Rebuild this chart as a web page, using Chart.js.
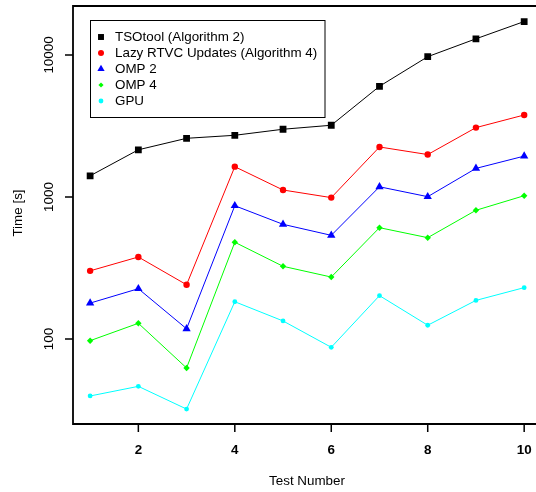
<!DOCTYPE html>
<html><head><meta charset="utf-8">
<script src="https://cdn.jsdelivr.net/npm/chart.js@4/dist/chart.umd.min.js"></script>
<style>html,body{margin:0;padding:0;overflow:hidden;background:#fff}#wrap{width:546px;height:492px}</style>
</head><body><div id="wrap"><canvas id="c" width="546" height="492"></canvas></div>
<script>
const testNumbers = [1, 2, 3, 4, 5, 6, 7, 8, 9, 10];
const tsotool = [1410, 2150, 2590, 2720, 3000, 3200, 6020, 9730, 13000, 17200];
const lazyRtvc = [302, 378, 241, 1635, 1120, 990, 2250, 1990, 3080, 3780];
const omp2 = [179, 226, 118, 868, 642, 537, 1180, 1005, 1590, 1940];
const omp4 = [97.3, 129, 62.5, 480, 325, 273, 608, 517, 806, 1021];
const gpu = [39.7, 46.4, 32.1, 183, 134, 87.4, 202, 125, 187, 230];
const xTicks = [2, 4, 6, 8, 10];
const yTicks = [100, 1000, 10000];
const seriesLabels = ['TSOtool (Algorithm 2)', 'Lazy RTVC Updates (Algorithm 4)', 'OMP 2', 'OMP 4', 'GPU'];
const xTitle = 'Test Number';
const yTitle = 'Time [s]';

const FONT = "'Liberation Sans', Arial, Helvetica, sans-serif";
const styles = [
  {color: '#000000', style: 'rect', r: 4.8},
  {color: '#FF0000', style: 'circle', r: 3.2},
  {color: '#0000FF', style: 'triangle', r: 4.8},
  {color: '#00FF00', style: 'rectRot', r: 3.2},
  {color: '#00FFFF', style: 'circle', r: 2.4}
];
const seriesData = [tsotool, lazyRtvc, omp2, omp4, gpu];

const datasets = seriesData.map((vals, i) => ({
  label: seriesLabels[i],
  data: vals.map((v, j) => ({x: testNumbers[j], y: v})),
  borderColor: styles[i].color,
  backgroundColor: styles[i].color,
  borderWidth: 1,
  pointStyle: styles[i].style,
  pointRadius: styles[i].r,
  pointBorderWidth: 0,
  pointBackgroundColor: styles[i].color,
  pointHoverRadius: styles[i].r,
  tension: 0
}));

function marker(ctx, style, x, y, r, color) {
  ctx.save();
  ctx.fillStyle = color;
  ctx.beginPath();
  if (style === 'rect') {
    const s = r * Math.SQRT1_2;
    ctx.rect(x - s, y - s, 2 * s, 2 * s);
  } else if (style === 'circle') {
    ctx.arc(x, y, r, 0, Math.PI * 2);
  } else if (style === 'triangle') {
    for (let k = 0; k < 3; k++) {
      const a = k * 2 * Math.PI / 3;
      const px = x + Math.sin(a) * r, py = y - Math.cos(a) * r;
      if (k === 0) ctx.moveTo(px, py); else ctx.lineTo(px, py);
    }
    ctx.closePath();
  } else if (style === 'rectRot') {
    ctx.moveTo(x, y - r); ctx.lineTo(x + r, y); ctx.lineTo(x, y + r); ctx.lineTo(x - r, y); ctx.closePath();
  }
  ctx.fill();
  ctx.restore();
}

const framePlugin = {
  id: 'frame',
  afterDraw(chart) {
    const ctx = chart.ctx;
    const a = chart.chartArea;
    const xs = chart.scales.x, ys = chart.scales.y;
    ctx.save();
    ctx.strokeStyle = '#000';
    ctx.lineWidth = 1.8;
    ctx.beginPath();
    ctx.moveTo(a.right + 10, a.top);
    ctx.lineTo(a.left, a.top);
    ctx.lineTo(a.left, a.bottom);
    ctx.lineTo(a.right + 10, a.bottom);
    ctx.stroke();
    ctx.lineWidth = 1.5;
    ctx.beginPath();
    xTicks.forEach(t => {
      const px = xs.getPixelForValue(t);
      ctx.moveTo(px, a.bottom); ctx.lineTo(px, a.bottom + 8);
    });
    yTicks.forEach(t => {
      const py = ys.getPixelForValue(t);
      ctx.moveTo(a.left, py); ctx.lineTo(a.left - 8, py);
    });
    ctx.stroke();
    ctx.fillStyle = '#000';
    ctx.textAlign = 'center';
    ctx.textBaseline = 'middle';
    ctx.font = 'bold 13.4px ' + FONT;
    xTicks.forEach(t => ctx.fillText(String(t), xs.getPixelForValue(t), 450));
    ctx.font = '13.4px ' + FONT;
    yTicks.forEach(t => {
      ctx.save();
      ctx.translate(49, ys.getPixelForValue(t));
      ctx.rotate(-Math.PI / 2);
      ctx.fillText(String(t), 0, 0);
      ctx.restore();
    });
    ctx.fillText(xTitle, 307, 481);
    ctx.save();
    ctx.translate(18.5, 213);
    ctx.rotate(-Math.PI / 2);
    ctx.fillText(yTitle, 0, 0);
    ctx.restore();
    // legend
    ctx.lineWidth = 1;
    ctx.strokeStyle = '#000';
    ctx.strokeRect(90.5, 20.5, 234.5, 97);
    ctx.textAlign = 'left';
    const rows = [37, 53, 69, 85, 101];
    const lr = [4.2, 3.0, 4.2, 2.6, 2.4];
    chart.data.datasets.forEach((ds, i) => {
      marker(ctx, styles[i].style, 101, rows[i], lr[i], styles[i].color);
      ctx.fillStyle = '#000';
      ctx.fillText(ds.label, 115, rows[i]);
    });
    ctx.restore();
  }
};

new Chart(document.getElementById('c'), {
  type: 'line',
  data: {datasets},
  options: {
    responsive: false,
    animation: false,
    events: [],
    layout: {padding: {top: 6, left: 0, right: 0, bottom: 0}},
    plugins: {legend: {display: false}, tooltip: {enabled: false}},
    scales: {
      x: {
        type: 'linear', min: 0.645, max: 10.353,
        grid: {display: false}, border: {display: false},
        ticks: {display: false},
        afterFit: s => { s.height = 68; }
      },
      y: {
        type: 'logarithmic', min: 25.2, max: 22130,
        grid: {display: false}, border: {display: false},
        ticks: {display: false},
        afterFit: s => { s.width = 73; }
      }
    }
  },
  plugins: [framePlugin]
});
</script>
</body></html>
